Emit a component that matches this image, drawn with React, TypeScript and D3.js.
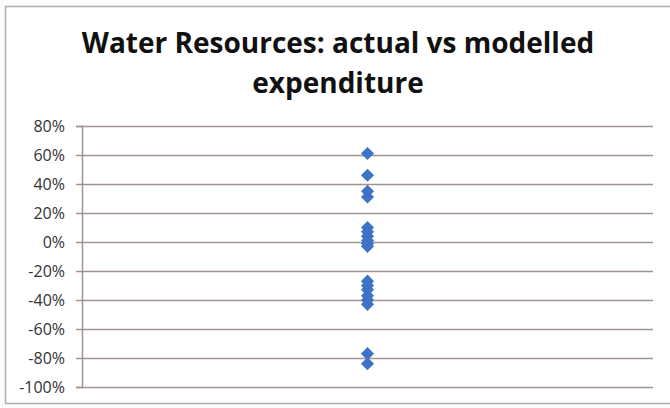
import * as d3 from "d3";
import { useEffect, useRef } from "react";

const titleLines = ["Water Resources: actual vs modelled", "expenditure"];
const yTicks = [0.8, 0.6, 0.4, 0.2, 0, -0.2, -0.4, -0.6, -0.8, -1.0];
const categories = [1];
const differences = [
  0.61, 0.46, 0.35, 0.31, 0.1, 0.07, 0.04, 0.01, -0.01, -0.03, -0.27, -0.3,
  -0.33, -0.37, -0.4, -0.43, -0.77, -0.84,
];

const W = 670;
const H = 408;

export default function App() {
  const ref = useRef<SVGSVGElement | null>(null);

  useEffect(() => {
    document.body.style.margin = "0";
    const svg = d3.select(ref.current);
    svg.selectAll("*").remove();

    svg.append("rect").attr("width", W).attr("height", H).attr("fill", "#fcfcfc");

    // chart frame
    svg
      .append("rect")
      .attr("x", 5.5)
      .attr("y", 6.5)
      .attr("width", W)
      .attr("height", 397)
      .attr("fill", "#ffffff")
      .attr("stroke", "#b3abab")
      .attr("stroke-width", 1.5);

    const left = 82;
    const right = 653;
    const x = d3.scaleLinear().domain([0, 2]).range([left, right]);
    const y = d3.scaleLinear().domain([-1, 0.8]).range([387, 126]);

    // title
    svg
      .append("text")
      .attr("text-anchor", "middle")
      .attr("font-family", "'Open Sans', sans-serif")
      .attr("font-weight", 700)
      .attr("font-size", 28)
      .attr("fill", "#111")
      .selectAll("tspan")
      .data(titleLines)
      .join("tspan")
      .attr("x", 338)
      .attr("y", (_, i) => 53 + i * 40)
      .text((d) => d);

    // gridlines
    svg
      .append("g")
      .selectAll("line")
      .data(yTicks)
      .join("line")
      .attr("x1", left)
      .attr("x2", right)
      .attr("y1", (d) => Math.round(y(d)) + 0.5)
      .attr("y2", (d) => Math.round(y(d)) + 0.5)
      .attr("stroke", "#9f9590")
      .attr("stroke-width", 1.5);

    // y axis
    const axis = svg
      .append("g")
      .attr("transform", `translate(${left},0)`)
      .call(
        d3
          .axisLeft(y)
          .tickValues(yTicks)
          .tickSize(6)
          .tickPadding(11)
          .tickFormat(d3.format(".0%"))
      );
    axis.select(".domain").attr("stroke", "#9f9590").attr("stroke-width", 1.5);
    axis.selectAll(".tick line").attr("stroke", "#9f9590").attr("stroke-width", 1.5);
    axis
      .selectAll(".tick text")
      .attr("font-family", "'Open Sans', sans-serif")
      .attr("font-size", 16)
      .attr("fill", "#333")
      .text((d: any) => d3.format(".0%")(d).replace("−", "-"));

    // points
    const diamond = d3.symbol().type(d3.symbolDiamond2).size(110);
    svg
      .append("g")
      .selectAll("path")
      .data(differences)
      .join("path")
      .attr("transform", (d) => `translate(${x(categories[0])},${y(d)})`)
      .attr("d", diamond)
      .attr("fill", "#3d72c6");
  }, []);

  return <svg ref={ref} width={W} height={H} style={{ display: "block" }}></svg>;
}
